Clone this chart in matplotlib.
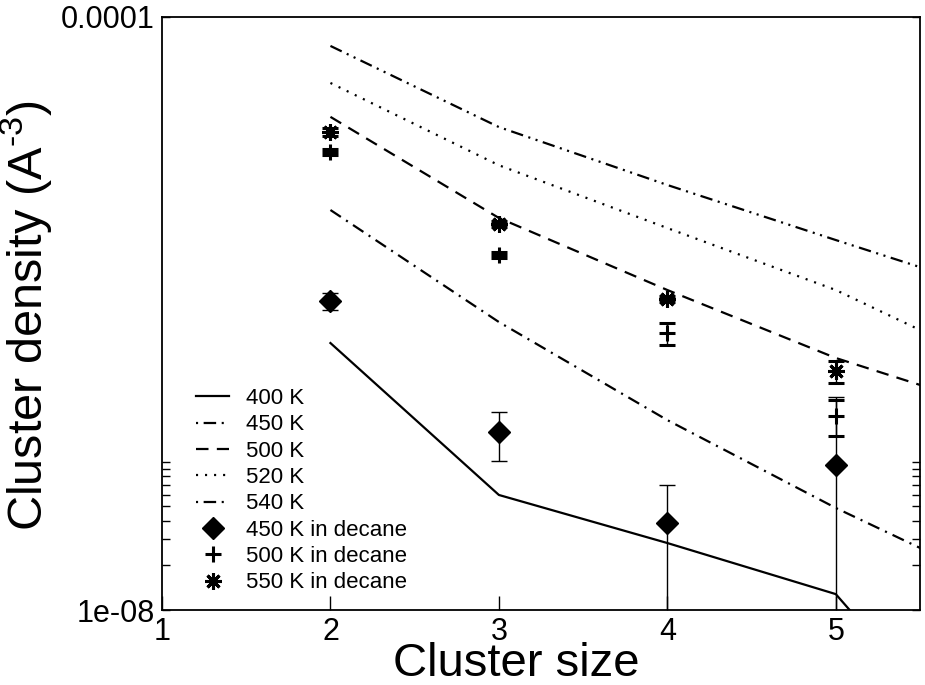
import numpy as np
import matplotlib
matplotlib.use("Agg")
import matplotlib.pyplot as plt
from matplotlib.lines import Line2D
from matplotlib.ticker import FixedLocator, NullFormatter

plt.rcParams['font.family'] = ['Liberation Sans', 'DejaVu Sans']
plt.rcParams['mathtext.fontset'] = 'custom'
plt.rcParams['mathtext.rm'] = 'Liberation Sans'
plt.rcParams['lines.scale_dashes'] = False

# model curves, cluster sizes 2..6
size = [2, 3, 4, 5, 6]
t400 = [6.32e-7, 5.97e-8, 2.83e-8, 1.28e-8, 6.4e-10]
t450 = [4.99e-6, 8.76e-7, 1.91e-7, 4.88e-8, 1.41e-8]
t500 = [2.12e-5, 4.41e-6, 1.44e-6, 5.01e-7, 2.17e-7]
t520 = [3.59e-5, 1.00e-5, 3.77e-6, 1.44e-6, 4.16e-7]
t540 = [6.38e-5, 1.81e-5, 7.36e-6, 3.13e-6, 1.35e-6]

# simulations in decane
size_dec = [2, 3, 4, 5]
d450 = [1.21e-6, 1.59e-7, 3.86e-8, 9.5e-8]
e450 = [1.6e-7, 5.8e-8, 3.1e-8, 1.78e-7]
d500 = [1.23e-5, 2.48e-6, 7.38e-7, 2.04e-7]
e500 = [5e-7, 1.2e-7, 1.25e-7, 5.5e-8]
d550 = [1.68e-5, 4.02e-6, 1.25e-6, 4.11e-7]
e550 = [1.0e-6, 1.9e-7, 6e-8, 7e-8]

fig = plt.figure(figsize=(9.25, 6.85), dpi=100)
ax = fig.add_axes([162/925, 75/685, 758/925, 593/685])
ax.set_yscale('log')

lw = 1.6
ax.plot(size, t400, color='k', lw=lw, ls='-')
ax.plot(size, t450, color='k', lw=lw, ls=(0, (9, 4.5, 1.5, 4.5)))
ax.plot(size, t500, color='k', lw=lw, ls=(0, (9, 6)))
ax.plot(size, t520, color='k', lw=lw, ls=(0, (1.5, 5)))
ax.plot(size, t540, color='k', lw=lw, ls=(0, (9, 4, 1.5, 4, 1.5, 4)))

asterisk = (8, 2, 0)
ebkw = dict(color='k', ecolor='k', elinewidth=1.0, capsize=6, capthick=1.0, ls='none')
ax.errorbar(size_dec, d450, yerr=e450, marker='D', ms=11, **ebkw)
ax.errorbar(size_dec, d500, yerr=e500, marker='+', ms=12, mew=2.2, **ebkw)
ax.errorbar(size_dec, d550, yerr=e550, marker=asterisk, ms=12, mew=2.2, **ebkw)

ax.set_xlim(1, 5.5)
ax.set_ylim(1e-8, 1e-4)
ax.set_xticks([1, 2, 3, 4, 5])
ax.yaxis.set_major_locator(FixedLocator([1e-8, 1e-4]))
ax.yaxis.set_major_formatter(plt.FixedFormatter(['1e-08', '0.0001']))
ax.yaxis.set_minor_locator(FixedLocator([k * 1e-8 for k in range(2, 11)]))
ax.yaxis.set_minor_formatter(NullFormatter())
ax.tick_params(axis='both', which='both', direction='in', labelsize=22, width=1)
ax.tick_params(axis='x', which='major', length=10, pad=5, top=False)
ax.tick_params(axis='y', which='both', length=6, right=True, pad=5)
for sp in ax.spines.values():
    sp.set_linewidth(1.3)

ax.set_xlabel('Cluster size', fontsize=34)
ax.xaxis.set_label_coords(0.468, -0.054)
ax.set_ylabel(r'Cluster density (A$^{\text{-3}}$)', fontsize=35)
ax.yaxis.set_label_coords(-0.141, 0.496)

handles = [
    Line2D([], [], color='k', lw=lw, ls='-'),
    Line2D([], [], color='k', lw=lw, ls=(0, (1.5, 4, 9, 4, 1.5, 4))),
    Line2D([], [], color='k', lw=lw, ls=(0, (9, 6))),
    Line2D([], [], color='k', lw=lw, ls=(0, (1.5, 5))),
    Line2D([], [], color='k', lw=lw, ls=(0, (1.5, 4, 9, 4, 1.5, 4))),
    Line2D([], [], color='k', ls='none', marker='D', ms=11),
    Line2D([], [], color='k', ls='none', marker='+', ms=12, mew=2.2),
    Line2D([], [], color='k', ls='none', marker=asterisk, ms=12, mew=2.2),
]
labels = ['400 K', '450 K', '500 K', '520 K', '540 K',
          '450 K in decane', '500 K in decane', '550 K in decane']
ax.legend(handles, labels, loc='lower left', bbox_to_anchor=(0.045, 0.028),
          frameon=False, fontsize=16, handlelength=1.5, handletextpad=0.75,
          labelspacing=0.24, borderpad=0, borderaxespad=0)

fig.savefig('out.png', dpi=100)
